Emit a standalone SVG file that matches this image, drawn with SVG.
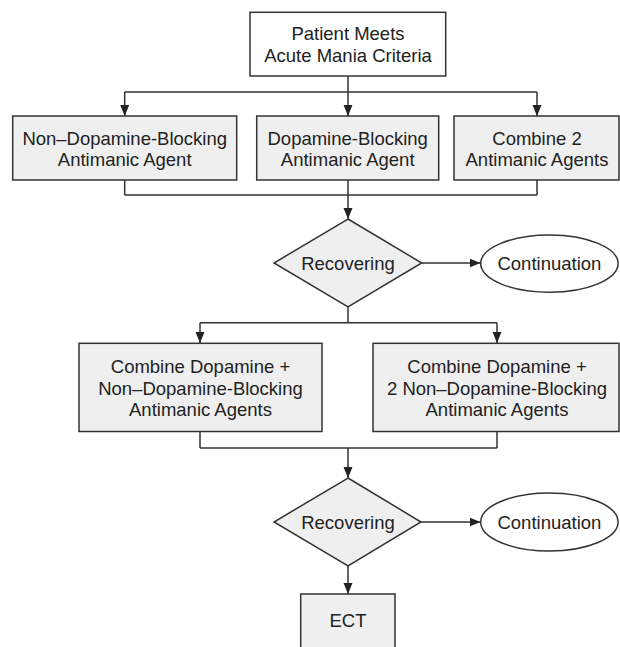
<svg xmlns="http://www.w3.org/2000/svg" width="620" height="647" viewBox="0 0 620 647">
<style>
.box{fill:#efefef;stroke:#333;stroke-width:1.5}
.wbox{fill:#fff;stroke:#333;stroke-width:1.5}
.ell{fill:#fff;stroke:#333;stroke-width:1.5}
.conn{fill:none;stroke:#333;stroke-width:1.5}
.t{font-family:"Liberation Sans",Arial,sans-serif;font-size:18.5px;fill:#222;text-anchor:middle}
</style>
<defs>
<marker id="ah" markerUnits="userSpaceOnUse" markerWidth="11" markerHeight="10" viewBox="0 0 11 10" refX="11" refY="5" orient="auto">
<path d="M0,0.5 L11,5 L0,9.5 Z" fill="#222"/>
</marker>
</defs>
<rect width="620" height="647" fill="#fff"/>
<g id="connectors">
<path class="conn" d="M348,76 V92 M124.7,92 H537"/>
<path class="conn" d="M124.7,92 V116" marker-end="url(#ah)"/>
<path class="conn" d="M348,92 V116" marker-end="url(#ah)"/>
<path class="conn" d="M537,92 V116" marker-end="url(#ah)"/>
<path class="conn" d="M124.7,180 V195 M348,180 V195 M537,180 V195 M124.7,195 H537"/>
<path class="conn" d="M348,195 V219" marker-end="url(#ah)"/>
<path class="conn" d="M421.7,263 H480.5" marker-end="url(#ah)"/>
<path class="conn" d="M348,307 V322.7 M200,322.7 H497"/>
<path class="conn" d="M200,322.7 V343" marker-end="url(#ah)"/>
<path class="conn" d="M497,322.7 V343" marker-end="url(#ah)"/>
<path class="conn" d="M200,431.5 V448 M497,431.5 V448 M200,448 H497"/>
<path class="conn" d="M348,448 V478" marker-end="url(#ah)"/>
<path class="conn" d="M421,522 H480.5" marker-end="url(#ah)"/>
<path class="conn" d="M348,566 V594" marker-end="url(#ah)"/>
</g>
<g id="start">
<rect class="wbox" x="250" y="12.3" width="195.7" height="63.7"/>
<text class="t" x="348" y="40">Patient Meets</text>
<text class="t" x="348" y="62">Acute Mania Criteria</text>
</g>
<g id="nondopamine">
<rect class="box" x="12.7" y="116" width="224" height="64"/>
<text class="t" x="124.7" y="145">Non–Dopamine-Blocking</text>
<text class="t" x="124.7" y="166">Antimanic Agent</text>
</g>
<g id="dopamine">
<rect class="box" x="256.7" y="116" width="182" height="64"/>
<text class="t" x="347.7" y="145">Dopamine-Blocking</text>
<text class="t" x="347.7" y="166">Antimanic Agent</text>
</g>
<g id="combine2">
<rect class="box" x="454" y="116" width="165" height="64"/>
<text class="t" x="537" y="145">Combine 2</text>
<text class="t" x="537" y="166">Antimanic Agents</text>
</g>
<g id="recovering1">
<polygon class="box" points="348,219 421.7,263 348,307 274,263"/>
<text class="t" x="348" y="269.5">Recovering</text>
</g>
<g id="continuation1">
<ellipse class="ell" cx="549.4" cy="263.6" rx="68.7" ry="28.6"/>
<text class="t" x="549.4" y="270">Continuation</text>
</g>
<g id="combineDopNon">
<rect class="box" x="79" y="343.3" width="243" height="88.2"/>
<text class="t" x="200.5" y="373.3">Combine Dopamine +</text>
<text class="t" x="200.5" y="394.6">Non–Dopamine-Blocking</text>
<text class="t" x="200.5" y="415.6">Antimanic Agents</text>
</g>
<g id="combineDop2Non">
<rect class="box" x="373" y="343.3" width="246" height="88.2"/>
<text class="t" x="497" y="373.3">Combine Dopamine +</text>
<text class="t" x="497" y="394.6">2 Non–Dopamine-Blocking</text>
<text class="t" x="497" y="415.6">Antimanic Agents</text>
</g>
<g id="recovering2">
<polygon class="box" points="348,478 421,522 348,566 274,522"/>
<text class="t" x="348" y="528.5">Recovering</text>
</g>
<g id="continuation2">
<ellipse class="ell" cx="549.4" cy="522" rx="68.7" ry="29"/>
<text class="t" x="549.4" y="528.5">Continuation</text>
</g>
<g id="ect">
<rect class="box" x="300.7" y="594" width="94.3" height="70"/>
<text class="t" x="348" y="626.5">ECT</text>
</g>
</svg>
